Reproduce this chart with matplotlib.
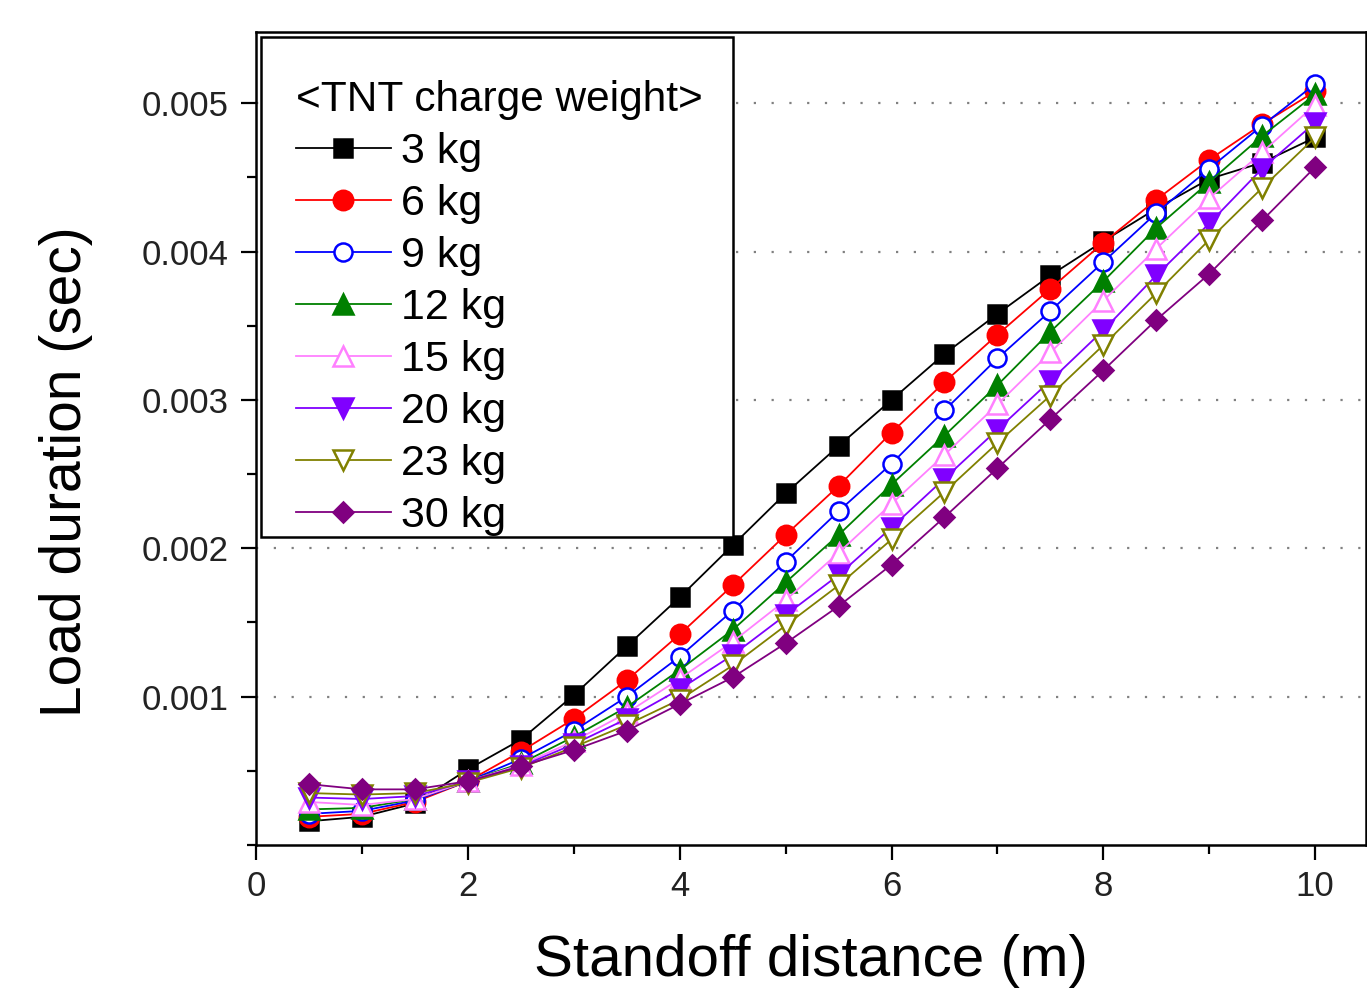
import numpy as np
import matplotlib
matplotlib.use("Agg")
import matplotlib.pyplot as plt
from matplotlib.patches import Rectangle
from matplotlib.ticker import MultipleLocator

plt.rcParams['font.family'] = ['Liberation Sans', 'DejaVu Sans']

# Standoff distance (m)
distance = [0.5, 1.0, 1.5, 2.0, 2.5, 3.0, 3.5, 4.0, 4.5, 5.0,
            5.5, 6.0, 6.5, 7.0, 7.5, 8.0, 8.5, 9.0, 9.5, 10.0]

# Load duration (ms) per TNT charge weight
dur_3kg = [0.16, 0.19, 0.28, 0.51, 0.71, 1.01, 1.34, 1.67, 2.02, 2.37,
           2.69, 3.00, 3.31, 3.58, 3.84, 4.07, 4.29, 4.49, 4.60, 4.77]
dur_6kg = [0.19, 0.21, 0.29, 0.43, 0.63, 0.85, 1.11, 1.42, 1.75, 2.09,
           2.42, 2.78, 3.12, 3.44, 3.75, 4.06, 4.35, 4.62, 4.86, 5.08]
dur_9kg = [0.21, 0.23, 0.30, 0.43, 0.58, 0.77, 1.00, 1.27, 1.58, 1.91,
           2.25, 2.57, 2.93, 3.28, 3.60, 3.93, 4.26, 4.56, 4.85, 5.13]
dur_12kg = [0.24, 0.25, 0.31, 0.43, 0.55, 0.73, 0.93, 1.18, 1.45, 1.77,
            2.09, 2.43, 2.76, 3.10, 3.46, 3.80, 4.16, 4.47, 4.78, 5.06]
dur_15kg = [0.29, 0.27, 0.31, 0.43, 0.54, 0.70, 0.89, 1.12, 1.37, 1.65,
            1.97, 2.30, 2.63, 2.97, 3.32, 3.67, 4.02, 4.36, 4.67, 4.99]
dur_20kg = [0.32, 0.31, 0.33, 0.43, 0.53, 0.68, 0.85, 1.05, 1.28, 1.55,
            1.82, 2.14, 2.47, 2.80, 3.13, 3.47, 3.84, 4.19, 4.56, 4.87]
dur_23kg = [0.35, 0.34, 0.35, 0.42, 0.52, 0.66, 0.81, 0.98, 1.21, 1.48,
            1.75, 2.06, 2.38, 2.71, 3.03, 3.37, 3.72, 4.08, 4.43, 4.77]
dur_30kg = [0.41, 0.375, 0.375, 0.43, 0.53, 0.64, 0.77, 0.95, 1.13, 1.36,
            1.61, 1.89, 2.21, 2.54, 2.87, 3.20, 3.54, 3.85, 4.21, 4.57]

labels = ['3 kg', '6 kg', '9 kg', '12 kg', '15 kg', '20 kg', '23 kg', '30 kg']
series = [dur_3kg, dur_6kg, dur_9kg, dur_12kg, dur_15kg, dur_20kg, dur_23kg, dur_30kg]
colors = ['#000000', '#ff0000', '#0000ff', '#008000', '#ff80ff', '#8000ff', '#808000', '#800080']
markers = ['s', 'o', 'o', '^', '^', 'v', 'v', 'D']
filled = [True, True, False, True, False, True, False, True]
sizes = [13, 14, 13, 14, 14, 14, 14, 10]

fig = plt.figure(figsize=(13.67, 9.89), dpi=100)
ax = fig.add_axes([0.1873, 0.1456, 0.8120, 0.8220])

x = np.array(distance)
for y, lab, c, m, f, ms in zip(series, labels, colors, markers, filled, sizes):
    ax.plot(x, np.array(y) / 1000.0, color=c, lw=1.3, marker=m, ms=ms,
            mfc=c if f else 'white', mec=c, mew=1.8, label=lab)

ax.set_xlim(0, 10.48)
ax.set_ylim(0, 0.00548)
ax.xaxis.set_major_locator(MultipleLocator(2))
ax.xaxis.set_minor_locator(MultipleLocator(1))
ax.yaxis.set_minor_locator(MultipleLocator(0.0005))
ax.set_yticks([0.001, 0.002, 0.003, 0.004, 0.005])
ax.set_yticklabels(['0.001', '0.002', '0.003', '0.004', '0.005'])

ax.tick_params(which='major', direction='out', length=11, width=1.6,
               labelsize=25, labelcolor='#222222', pad=7)
ax.tick_params(which='minor', direction='out', length=6.5, width=1.6)
ax.tick_params(axis='y', which='major', pad=9)
for s in ax.spines.values():
    s.set_linewidth(1.8)

ax.yaxis.grid(True, which='major', linestyle=(0, (1, 7)), color='#808080', lw=1.6)
ax.set_axisbelow(True)

ax.set_xlabel('Standoff distance (m)', fontsize=42, labelpad=22)
ax.set_ylabel('Load duration (sec)', fontsize=41)
ax.yaxis.set_label_coords(-0.147, 0.459)

# legend frame drawn separately (uneven padding in the original)
ax.add_patch(Rectangle((0.0045, 0.3788), 0.4252, 0.615, transform=ax.transAxes,
                       facecolor='white', edgecolor='black', lw=1.8, zorder=4))

leg = ax.legend(title='<TNT charge weight>', loc='upper left',
                bbox_to_anchor=(0.036, 0.941), borderaxespad=0, borderpad=0,
                fontsize=31, title_fontsize=30.5, numpoints=1,
                handlelength=2.2, handletextpad=0.25, labelspacing=0.28,
                frameon=False, alignment='left')
leg.set_zorder(5)

fig.savefig('out.png', dpi=100)
